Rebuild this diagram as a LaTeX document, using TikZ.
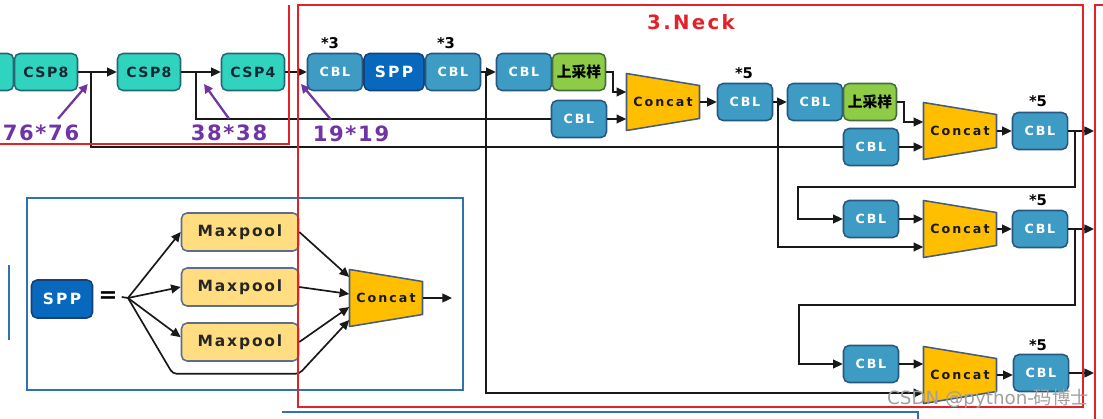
\documentclass[tikz,border=0pt]{standalone}
\usepackage{fontspec}
\setmainfont{DejaVu Sans}
\newfontfamily\cjk{Noto Sans CJK SC}
\usetikzlibrary{arrows.meta}
\definecolor{cblBlue}{RGB}{62,156,196}
\definecolor{cblEdge}{RGB}{38,88,130}
\definecolor{sppBlue}{RGB}{8,104,190}
\definecolor{sppEdge}{RGB}{20,66,120}
\definecolor{cspTeal}{RGB}{48,212,190}
\definecolor{cspEdge}{RGB}{36,104,118}
\definecolor{cspText}{RGB}{18,40,50}
\definecolor{upGreen}{RGB}{142,204,72}
\definecolor{upEdge}{RGB}{70,110,60}
\definecolor{catGold}{RGB}{255,190,0}
\definecolor{catEdge}{RGB}{70,92,125}
\definecolor{poolYellow}{RGB}{255,221,128}
\definecolor{poolEdge}{RGB}{92,110,140}
\definecolor{neckRed}{RGB}{228,32,40}
\definecolor{sizePurple}{RGB}{112,52,164}
\definecolor{frameBlue}{RGB}{46,114,176}

\newcommand\concatblock[3]{%
  \filldraw[catshape] (#2-36.5,#3-28.5) -- (#2+36.5,#3-16.5) -- (#2+36.5,#3+16.5) -- (#2-36.5,#3+28.5) -- cycle;
  \node[cattext] (#1) at (#2,#3) {Concat};}

\begin{document}
\begin{tikzpicture}[x=0.025cm, y=-0.025cm]
\tikzstyle{block} = [rectangle, rounded corners=0.14cm, line width=1.1pt, minimum height=0.925cm, inner sep=0pt]
\tikzstyle{csp} = [block, draw=cspEdge, fill=cspTeal, text=cspText, minimum width=1.575cm, font=\bfseries\fontsize{10}{11}\selectfont\addfontfeature{LetterSpace=10}]
\tikzstyle{cbl} = [block, draw=cblEdge, fill=cblBlue, text=white, minimum width=1.375cm, font=\bfseries\fontsize{9}{10}\selectfont\addfontfeature{LetterSpace=14}]
\tikzstyle{sppblk} = [block, draw=sppEdge, fill=sppBlue, text=white, minimum width=1.5cm, font=\bfseries\fontsize{11}{12}\selectfont\addfontfeature{LetterSpace=15}]
\tikzstyle{upblk} = [block, draw=upEdge, fill=upGreen, text=black, minimum width=1.325cm, font=\cjk\bfseries\fontsize{10.5}{12}\selectfont]
\tikzstyle{mpool} = [block, draw=poolEdge, fill=poolYellow, text=black!85, minimum width=2.925cm, minimum height=0.95cm, font=\bfseries\fontsize{11}{12}\selectfont\addfontfeature{LetterSpace=12}]
\tikzstyle{catshape} = [draw=catEdge, fill=catGold, line width=1.1pt, line join=round]
\tikzstyle{cattext} = [minimum width=1.825cm, minimum height=1.425cm, inner sep=0pt, text=black!90, font=\bfseries\fontsize{9}{10}\selectfont\addfontfeature{LetterSpace=16}]
\tikzstyle{mult} = [inner sep=0pt, font=\bfseries\fontsize{10.5}{12}\selectfont]
\tikzstyle{sizelabel} = [inner sep=0pt, text=sizePurple, font=\bfseries\fontsize{15}{16}\selectfont\addfontfeature{LetterSpace=8}]
\tikzstyle{link} = [draw=black!90, line width=1.2pt]
\tikzstyle{arrow} = [link, -{Triangle[length=0.24cm,width=0.22cm]}]
\tikzstyle{sizearrow} = [draw=sizePurple, line width=1.6pt, -{Triangle[length=0.22cm,width=0.22cm]}]
\tikzstyle{redframe} = [draw=neckRed, line width=1.3pt]

\useasboundingbox (0,0) rectangle (1103,419);
\clip (0,0) rectangle (1103,419);

% backbone outputs
\node[csp] (pre) at (-18,72) {};
\node[csp] (csp1) at (46,72) {CSP8};
\node[csp] (csp2) at (149,72) {CSP8};
\node[csp] (csp3) at (253,72) {CSP4};

% neck
\node[cbl] (cbl1) at (335,72) {CBL};
\node[sppblk] (spp1) at (394,72) {SPP};
\node[cbl] (cbl2) at (453,72) {CBL};
\node[cbl] (cbl3) at (524,72) {CBL};
\node[upblk] (up1) at (579,72) {上采样};
\node[cbl] (cbl4) at (579,119) {CBL};
\concatblock{c1}{663}{102}
\node[cbl] (cbl5) at (745,102) {CBL};
\node[cbl] (cbl6) at (815,102) {CBL};
\node[upblk] (up2) at (870,102) {上采样};
\node[cbl] (cbl7) at (871,147) {CBL};
\concatblock{c2}{960}{131}
\node[cbl] (cbl8) at (1040,131) {CBL};
\node[cbl] (cbl9) at (871,219) {CBL};
\concatblock{c3}{960}{229}
\node[cbl] (cbl10) at (1040,229) {CBL};
\node[cbl] (cbl11) at (871,364) {CBL};
\concatblock{c4}{960}{375}
\node[cbl] (cbl12) at (1041,373) {CBL};

\node[mult] (m1) at (330,43) {*3};
\node[mult] (m2) at (446,43) {*3};
\node[mult] (m3) at (744,73) {*5};
\node[mult] (m4) at (1038,101) {*5};
\node[mult] (m5) at (1038,200) {*5};
\node[mult] (m6) at (1038,345) {*5};

\coordinate (b1) at (91,72);
\coordinate (b2) at (196,72);
\coordinate (b3) at (486,72);
\coordinate (b4) at (778,102);
\coordinate (b5) at (1075,131);
\coordinate (b6) at (1075,229);
\coordinate (b7) at (298,72);
\coordinate (o1) at (1094,131);
\coordinate (o2) at (1094,229);
\coordinate (o3) at (1094,373);

\draw[arrow] (csp1) -- (csp2);
\draw[arrow] (csp2) -- (csp3);
\draw[arrow] (csp3) -- (cbl1);
\draw[link] (b1) |- (cbl7);
\draw[link] (b2) |- (cbl4);
\draw[arrow] (cbl2) -- (cbl3);
\draw[arrow] (b3) |- ([yshift=-0.45cm]c4.west);
\draw[arrow] (up1.east) -- ++(7,0) |- ([yshift=0.25cm]c1.west);
\draw[arrow] (cbl4.east) -- (cbl4.east -| c1.west);
\draw[arrow] (c1) -- (cbl5);
\draw[arrow] (cbl5) -- (cbl6);
\draw[arrow] (b4) |- ([yshift=-0.45cm]c3.west);
\draw[arrow] (up2.east) -- ++(7,0) |- ([yshift=0.225cm]c2.west);
\draw[arrow] (cbl7.east) -- (cbl7.east -| c2.west);
\draw[arrow] (c2) -- (cbl8);
\draw[arrow] (cbl8) -- (o1);
\draw[arrow] (b5) -- ++(0,56) -| ++(-277,32) -- (cbl9);
\draw[arrow] (cbl9.east) -- (cbl9.east -| c3.west);
\draw[arrow] (c3) -- (cbl10);
\draw[arrow] (cbl10) -- (o2);
\draw[arrow] (b6) -- ++(0,76) -| ++(-276,59) -- (cbl11);
\draw[arrow] (cbl11.east) -- (cbl11.east -| c4.west);
\draw[arrow] (c4.east) -- (c4.east -| cbl12.west);
\draw[arrow] (cbl12) -- (o3);

% feature map sizes
\node[sizelabel] (s76) at (41,133) {76*76};
\node[sizelabel] (s38) at (229,133) {38*38};
\node[sizelabel] (s19) at (351,134) {19*19};
\draw[sizearrow] ([shift={(0.425cm,0.15cm)}]s76.north) -- ([shift={(-0.08cm,-0.3cm)}]b1);
\draw[sizearrow] ([shift={(0cm,0.15cm)}]s38.north) -- ([shift={(0.2cm,-0.3cm)}]b2);
\draw[sizearrow] ([shift={(-0.5cm,0.15cm)}]s19.north) -- ([shift={(0.075cm,-0.3cm)}]b7);

% SPP structure
\draw[frameBlue, line width=2pt] (27,198) rectangle (463,390);
\draw[frameBlue, line width=2pt] (9,265) -- (9,340);
\draw[frameBlue, line width=1.5pt] (282,412) -| (918,430);
\node[sppblk, minimum width=1.525cm, minimum height=0.95cm] (spp2) at (62,299) {SPP};
\node[inner sep=0pt, font=\bfseries\fontsize{16}{16}\selectfont] (eq) at (108,297) {=};
\coordinate (split) at (128,298);
\node[mpool] (mp1) at (240,232) {Maxpool};
\node[mpool] (mp2) at (240,287) {Maxpool};
\node[mpool] (mp3) at (240,342) {Maxpool};
\concatblock{c5}{386}{298}
\coordinate (sppout) at (452,298);
\draw[link] ([xshift=0.1cm]eq.east) -- (split);
\draw[arrow] (split) -- (mp1.west);
\draw[arrow] (split) -- (mp2.west);
\draw[arrow] (split) -- ([yshift=0.12cm]mp3.west);
\draw[arrow, rounded corners=0.1cm] (split) -- ([shift={(-0.2cm,-0.3cm)}]mp3.south west) -- ([yshift=-0.3cm]mp3.south east) -- ([yshift=-0.55cm]c5.west);
\draw[arrow] (mp1.east) -- ([yshift=0.525cm]c5.west);
\draw[arrow] (mp2.east) -- ([yshift=0.1cm]c5.west);
\draw[arrow] (mp3.east) -- ([yshift=-0.225cm]c5.west);
\draw[arrow] (c5) -- (sppout);

% stage frames
\draw[redframe] (-10,144) -| (289,5);
\draw[redframe] (298,5) rectangle (1083,407);
\draw[redframe] (1095,430) |- (1120,5);
\node[inner sep=0pt, text=neckRed, font=\bfseries\fontsize{14}{16}\selectfont\addfontfeature{LetterSpace=12}] (neck) at (691,22) {3.Neck};

\node[inner sep=0pt, text=gray!75, font=\fontsize{13}{14}\selectfont] (wm) at (988,399) {CSDN @python-{\cjk 码博士}};
\end{tikzpicture}
\end{document}
